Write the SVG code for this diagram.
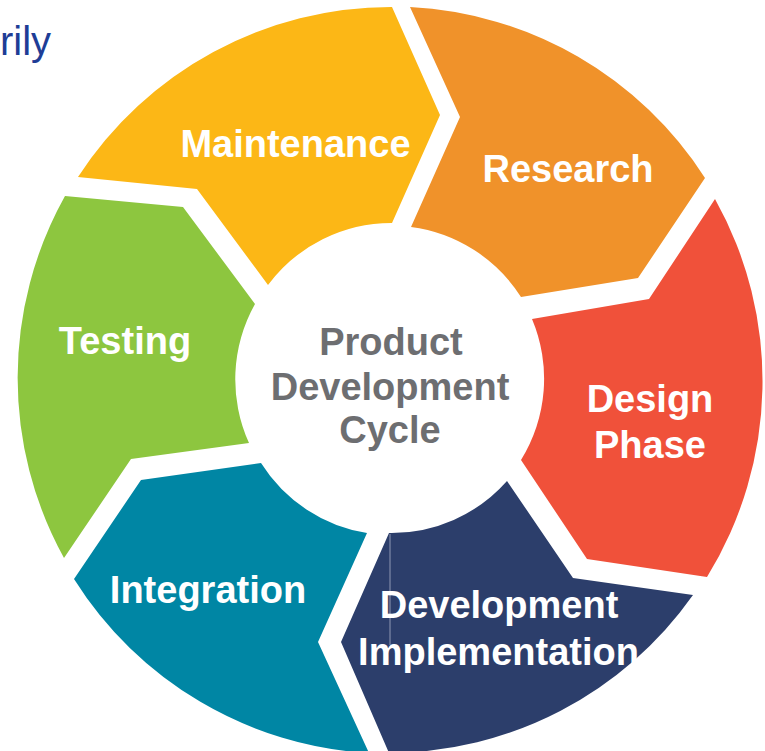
<svg xmlns="http://www.w3.org/2000/svg" width="765" height="751" viewBox="0 0 765 751">
  <style>
    .seg { stroke: none; }
    .label { font-family: "Liberation Sans", Arial, sans-serif; font-weight: bold; font-size: 38px; fill: #ffffff; text-anchor: middle; }
    .hub { font-family: "Liberation Sans", Arial, sans-serif; font-weight: bold; font-size: 38px; fill: #6d6e71; text-anchor: middle; }
    .caption { font-family: "Liberation Sans", Arial, sans-serif; font-size: 40px; fill: #1e3d96; }
  </style>
  <rect width="765" height="751" fill="#ffffff"/>

  <!-- caption text at the top left -->
  <text class="caption" x="0" y="55">rily</text>

  <!-- ring segments: each chevron arc points clockwise -->
  <g id="maintenance">
    <path class="seg" fill="#fcb716" d="M78,177 L197,189 L268,285 A154,154 0 0 1 392,223 L440,115 L392,7 A373,373 0 0 0 78,177 Z"/>
    <text class="label" x="295.5" y="157">Maintenance</text>
  </g>
  <g id="research">
    <path class="seg" fill="#f0922a" d="M410,7 L460,117 L411,227 A154,154 0 0 1 521,297 L638,278 L705,178 A373,373 0 0 0 410,7 Z"/>
    <text class="label" x="568" y="182">Research</text>
  </g>
  <g id="design">
    <path class="seg" fill="#f0513a" d="M715,199 L649,299 L532,319 A154,154 0 0 1 521,460 L587,559 L707,577 A373,373 0 0 0 715,199 Z"/>
    <text class="label" x="650" y="412">Design</text>
    <text class="label" x="650" y="458">Phase</text>
  </g>
  <g id="development">
    <path class="seg" fill="#2c3e6b" d="M693,595 L573,578 L507,481 A154,154 0 0 1 389,533 L341,642 L389,753 A373,373 0 0 0 693,595 Z"/>
    <line x1="390" y1="534" x2="390" y2="645" stroke="#8e97b3" stroke-width="1"/>
    <text class="label" x="499" y="618">Development</text>
    <text class="label" x="498.5" y="665">Implementation</text>
  </g>
  <g id="integration">
    <path class="seg" fill="#0086a4" d="M369,753 L318,642 L367,533 A154,154 0 0 1 261,463 L141,480 L74,579 A373,373 0 0 0 369,753 Z"/>
    <text class="label" x="208" y="603">Integration</text>
  </g>
  <g id="testing">
    <path class="seg" fill="#8dc63f" d="M64,558 L131,459 L249,443 A154,154 0 0 1 255,304 L183,207 L65,196 A373,373 0 0 0 64,558 Z"/>
    <text class="label" x="125" y="354">Testing</text>
  </g>

  <!-- hub -->
  <g id="hub">
    <text class="hub" x="391" y="355">Product</text>
    <text class="hub" x="390" y="400">Development</text>
    <text class="hub" x="390" y="443">Cycle</text>
  </g>

  <!-- no connectors: the chevrons carry the flow -->
  <g id="connectors"/>
</svg>
